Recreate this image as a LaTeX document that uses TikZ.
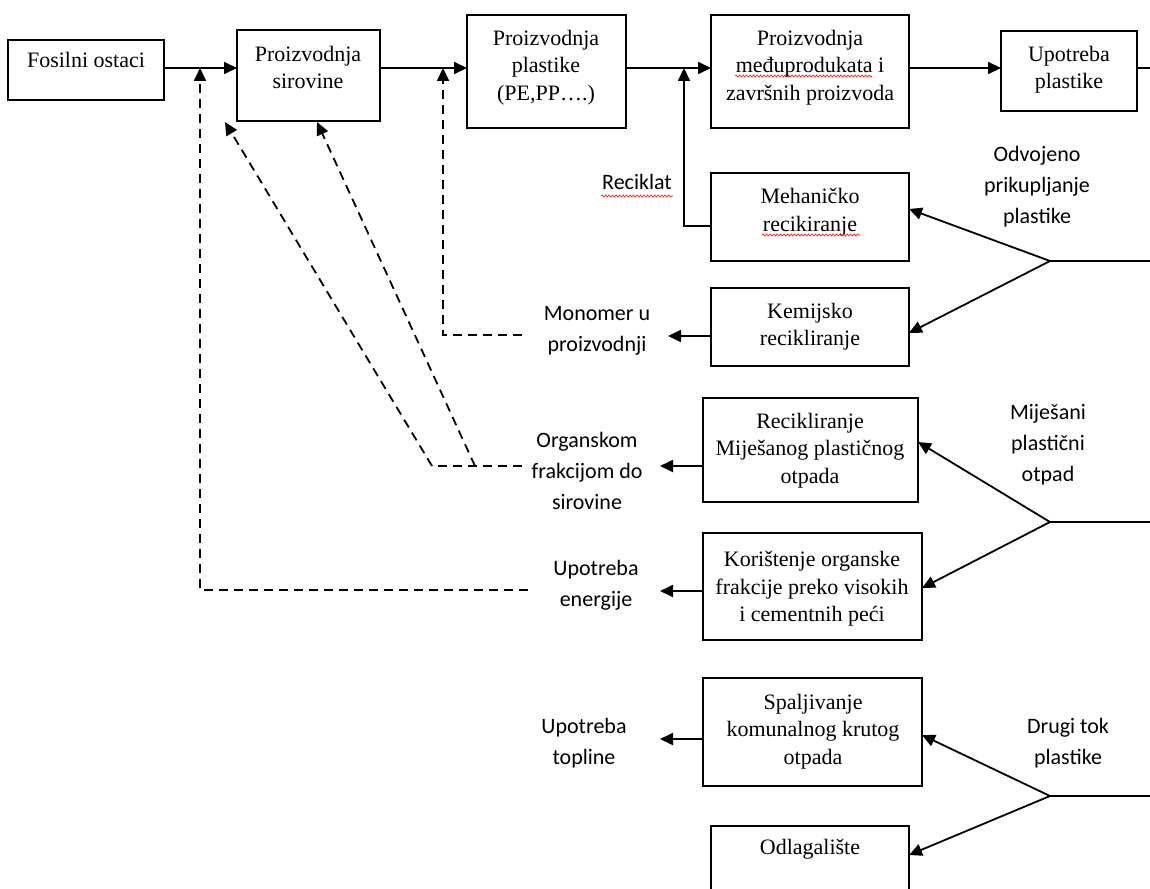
\documentclass[tikz,border=0pt]{standalone}
\usepackage{fontspec}
\setmainfont{Liberation Serif}
\newfontfamily\lblfont{Carlito}
\usetikzlibrary{arrows.meta,decorations.pathmorphing}
\tikzset{
  box/.style={draw, line width=1.3pt, rectangle, inner sep=0pt, outer sep=0pt},
  btxt/.style={align=center, anchor=north, inner sep=0pt, font=\fontsize{22}{27.5}\selectfont},
  lbl/.style={align=center, anchor=north, inner sep=0pt, font=\lblfont\fontsize{22}{31}\selectfont},
  conn/.style={line width=1.8pt, -{Triangle[length=13pt,width=12pt]}},
  plainline/.style={line width=1.8pt},
  dline/.style={line width=1.8pt, dash pattern=on 9pt off 6pt},
  dconn/.style={dline, -{Triangle[length=13pt,width=12pt]}},
  wavy/.style={red, line width=0.6pt, decorate, decoration={snake, amplitude=1pt, segment length=3.5pt}},
}
\begin{document}
\begin{tikzpicture}[x=1pt,y=-1pt]
\useasboundingbox (0,0) rectangle (1150,888);
\clip (0,0) rectangle (1150,888);

% top row boxes
\node[box, minimum width=156pt, minimum height=60pt] (fos) at (86,70) {};
\node[btxt] (fost) at (86,52) {Fosilni ostaci};
\node[box, minimum width=143pt, minimum height=91pt] (sir) at (308.5,75.5) {};
\node[btxt] (sirt) at (308,46) {Proizvodnja\\sirovine};
\node[box, minimum width=159pt, minimum height=113pt] (pla) at (546.5,71.5) {};
\node[btxt] (plat) at (546,30) {Proizvodnja\\plastike\\(PE,PP\dots.)};
\node[box, minimum width=198pt, minimum height=113pt] (med) at (810,71.5) {};
\node[btxt] (medt) at (810,30) {Proizvodnja\\međuprodukata i\\završnih proizvoda};
\node[box, minimum width=136pt, minimum height=80pt] (upo) at (1069,71) {};
\node[btxt] (upot) at (1069,46) {Upotreba\\plastike};

% recycling boxes
\node[box, minimum width=198pt, minimum height=88pt] (mech) at (810,217) {};
\node[btxt] (mecht) at (810,188) {Mehaničko\\recikiranje};
\node[box, minimum width=198pt, minimum height=78pt] (kem) at (810,327) {};
\node[btxt] (kemt) at (810,303) {Kemijsko\\recikliranje};
\node[box, minimum width=215pt, minimum height=104pt] (mix) at (810.5,450) {};
\node[btxt] (mixt) at (810,413) {Recikliranje\\Miješanog plastičnog\\otpada};
\node[box, minimum width=219pt, minimum height=107pt] (kor) at (812.5,586.5) {};
\node[btxt] (kort) at (812,551) {Korištenje organske\\frakcije preko visokih\\i cementnih peći};
\node[box, minimum width=219pt, minimum height=108pt] (spa) at (812.5,732) {};
\node[btxt] (spat) at (813,694) {Spaljivanje\\komunalnog krutog\\otpada};
\node[box, minimum width=198pt, minimum height=84pt] (odl) at (810,868) {};
\node[btxt] (odlt) at (810,839) {Odlagalište};

% labels
\node[lbl] (rec) at (637,174) {Reciklat};
\node[lbl] (odv) at (1037,146) {Odvojeno\\prikupljanje\\plastike};
\node[lbl] (mon) at (597,306) {Monomer u\\proizvodnji};
\node[lbl] (org) at (587,432) {Organskom\\frakcijom do\\sirovine};
\node[lbl] (ene) at (596,560) {Upotreba\\energije};
\node[lbl] (mij) at (1048,404) {Miješani\\plastični\\otpad};
\node[lbl] (top) at (584,718) {Upotreba\\topline};
\node[lbl] (dru) at (1068,718) {Drugi tok\\plastike};

% coordinates
\coordinate (mainy) at (0,68);
\coordinate (e0) at (1150,68);
\coordinate (rc) at (684,226);
\coordinate (monS) at (522,335);
\coordinate (d1) at (443,335);
\coordinate (enS) at (528,590);
\coordinate (d2) at (200,590);
\coordinate (orgS) at (522,466);
\coordinate (d3) at (432,466);
\coordinate (d4) at (475,466);
\coordinate (t3) at (225,122);
\coordinate (t4) at (317,122);
\coordinate (mt) at (668,336);
\coordinate (ot) at (660,466);
\coordinate (et) at (660,591);
\coordinate (tt) at (660,739);
\coordinate (j1) at (1050,261);
\coordinate (j2) at (1050,522);
\coordinate (j3) at (1050,796);
\coordinate (e1) at (1150,261);
\coordinate (e2) at (1150,522);
\coordinate (e3) at (1150,796);

% main flow
\draw[conn] (fos.east |- mainy) -- (sir.west |- mainy);
\draw[conn] (sir.east |- mainy) -- (pla.west |- mainy);
\draw[conn] (pla.east |- mainy) -- (med.west |- mainy);
\draw[conn] (med.east |- mainy) -- (upo.west |- mainy);
\draw[plainline] (upo.east |- mainy) -- (e0);

% reciklat
\draw[conn] (mech.west |- rc) -- (rc) -- (rc |- mainy);

% dashed returns
\draw[dconn] (monS) -- (d1) -- (d1 |- mainy);
\draw[dconn] (enS) -- (d2) -- (d2 |- mainy);
\draw[dline] (orgS) -- (d3);
\draw[dconn] (d3) -- (t3);
\draw[dconn] (d4) -- (t4);

% outputs to the left
\draw[conn] (kem.west |- mt) -- (mt);
\draw[conn] (mix.west |- ot) -- (ot);
\draw[conn] (kor.west |- et) -- (et);
\draw[conn] (spa.west |- tt) -- (tt);

% input streams
\draw[plainline] (j1) -- (e1);
\draw[conn] (j1) -- ([yshift=8pt]mech.east);
\draw[conn] (j1) -- ([yshift=-6pt]kem.east);
\draw[plainline] (j2) -- (e2);
\draw[conn] (j2) -- ([yshift=8pt]mix.east);
\draw[conn] (j2) -- ([yshift=-1.5pt]kor.east);
\draw[plainline] (j3) -- (e3);
\draw[conn] (j3) -- ([yshift=-3pt]spa.east);
\draw[conn] (j3) -- ([yshift=13pt]odl.east);

% spell-check underlines
\draw[wavy] (601,196) -- (673,196);
\draw[wavy] (735,76) -- (872,76);
\draw[wavy] (762,235) -- (860,235);
\end{tikzpicture}
\end{document}
